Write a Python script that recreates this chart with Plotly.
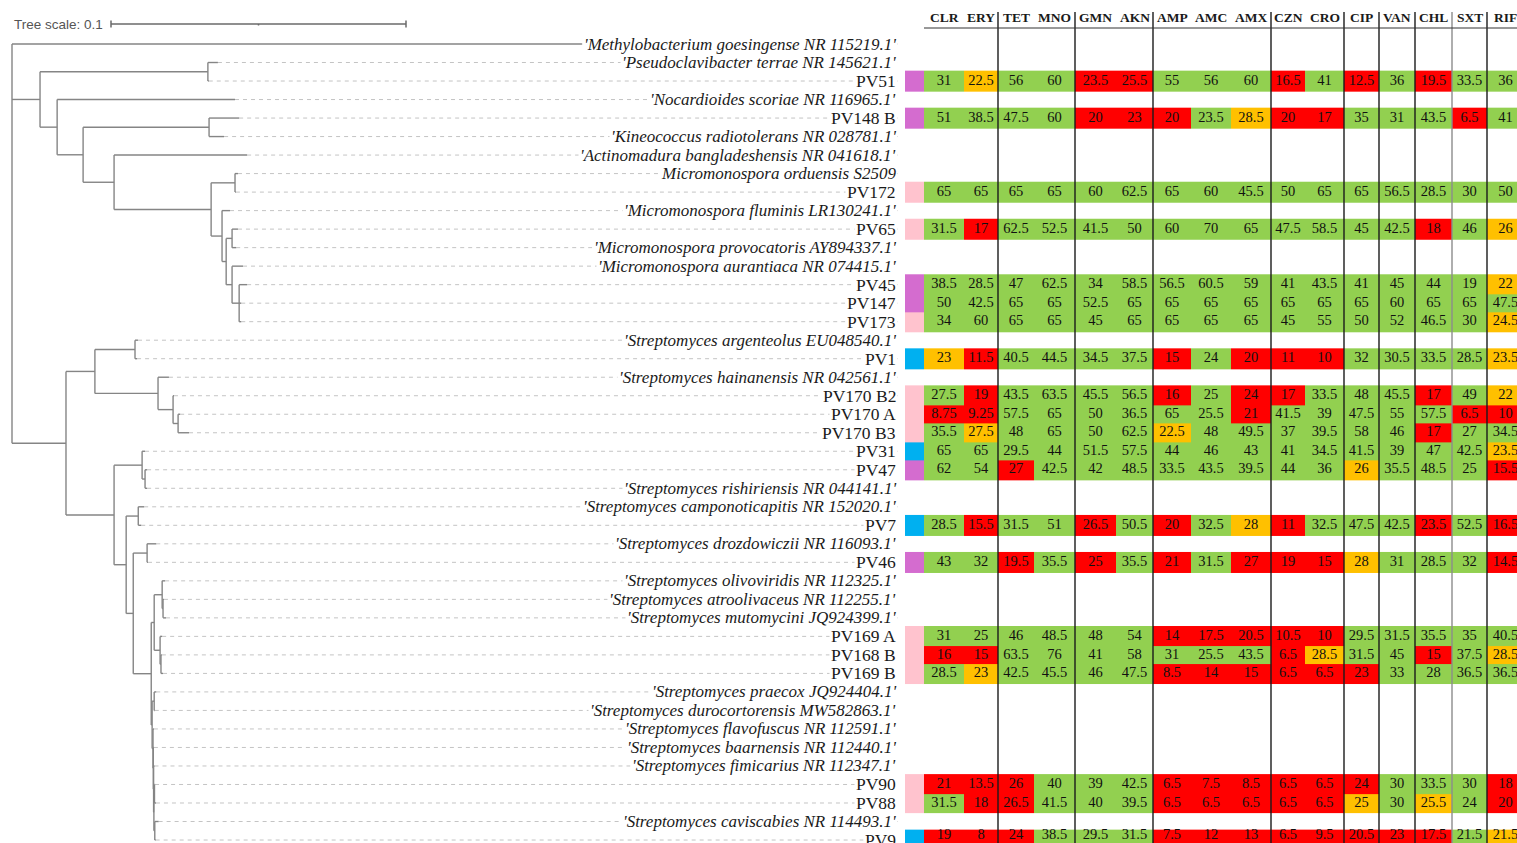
import plotly.graph_objects as go

# ---------------- tree data (branch lengths in substitutions/site) ----------------
NODE_NAMES = ["root", "A", "A1", "A2", "A3", "A4", "A5", "M", "M1", "M2", "M3", "M4", "M5", "M6",
              "B", "B1", "B2", "B3", "B4", "B5", "C", "C1", "C2", "C3", "C4", "C5", "C6", "C7",
              "C8", "C9", "C9a", "C10", "C10a", "C11", "D1", "D2", "D3", "D4", "D5", "D6", "D7"]
NODE_PARENT = [None, "root", "A", "A", "A2", "A3", "A3", "A5", "M", "M", "M2", "M3", "M3", "M5",
               "root", "B", "B1", "B1", "B3", "B4", "B", "C", "C1", "C", "C3", "C3", "C5", "C5",
               "C7", "C8", "C9", "C8", "C10", "C7", "C11", "C11", "D2", "D3", "D4", "D5", "D5"]
NODE_BRANCH = [0.0, 0.0095, 0.0569, 0.0058, 0.0088, 0.0427, 0.0105, 0.0329, 0.0081, 0.0037, 0.0014, 0.0020, 0.0020, 0.0024,
               0.0183, 0.0098, 0.0136, 0.0214, 0.0051, 0.0017, 0.0163, 0.0095, 0.0010, 0.0041, 0.0041, 0.0024, 0.0047, 0.0061,
               0.0010, 0.0027, 0.0003, 0.0020, 0.0003, 0.0003, 0.0007, 0.0003, 0.0001, 0.0001, 0.0001, 0.0002, 0.0003]

LEAF_NAMES = [
    "'Methylobacterium goesingense NR 115219.1'",
    "'Pseudoclavibacter terrae NR 145621.1'",
    "PV51",
    "'Nocardioides scoriae NR 116965.1'",
    "PV148 B",
    "'Kineococcus radiotolerans NR 028781.1'",
    "'Actinomadura bangladeshensis NR 041618.1'",
    "Micromonospora orduensis S2509",
    "PV172",
    "'Micromonospora fluminis LR130241.1'",
    "PV65",
    "'Micromonospora provocatoris AY894337.1'",
    "'Micromonospora aurantiaca NR 074415.1'",
    "PV45",
    "PV147",
    "PV173",
    "'Streptomyces argenteolus EU048540.1'",
    "PV1",
    "'Streptomyces hainanensis NR 042561.1'",
    "PV170 B2",
    "PV170 A",
    "PV170 B3",
    "PV31",
    "PV47",
    "'Streptomyces rishiriensis NR 044141.1'",
    "'Streptomyces camponoticapitis NR 152020.1'",
    "PV7",
    "'Streptomyces drozdowiczii NR 116093.1'",
    "PV46",
    "'Streptomyces olivoviridis NR 112325.1'",
    "'Streptomyces atroolivaceus NR 112255.1'",
    "'Streptomyces mutomycini JQ924399.1'",
    "PV169 A",
    "PV168 B",
    "PV169 B",
    "'Streptomyces praecox JQ924404.1'",
    "'Streptomyces durocortorensis MW582863.1'",
    "'Streptomyces flavofuscus NR 112591.1'",
    "'Streptomyces baarnensis NR 112440.1'",
    "'Streptomyces fimicarius NR 112347.1'",
    "PV90",
    "PV88",
    "'Streptomyces caviscabies NR 114493.1'",
    "PV9",
]
LEAF_PARENT = ["root", "A1", "A1", "A2", "A4", "A4", "A5", "M1", "M1", "M2", "M4", "M4", "M5", "M6", "M6", "M6",
               "B2", "B2", "B3", "B4", "B5", "B5", "C1", "C2", "C2", "C4", "C4", "C6", "C6",
               "C9", "C9a", "C9a", "C10", "C10a", "C10a", "D1", "D1", "D2", "D3", "D4", "D6", "D6", "D7", "D7"]
LEAF_BRANCH = [0.1932, 0.0034, 0.0003, 0.0603, 0.0102, 0.0051, 0.0451, 0.0010, 0.0003, 0.0027, 0.0020, 0.0014,
               0.0037, 0.0027, 0.0007, 0.0007, 0.0010, 0.0007, 0.0037, 0.0003, 0.0007, 0.0037, 0.0010, 0.0007,
               0.0007, 0.0020, 0.0010, 0.0031, 0.0003, 0.0010, 0.0003, 0.0010, 0.0007, 0.0003, 0.0007, 0.0007,
               0.0002, 0.0003, 0.0002, 0.0003, 0.0002, 0.0005, 0.0013, 0.0003]

# ---------------- inhibition-zone table ----------------
ANTIBIOTICS = ["CLR", "ERY", "TET", "MNO", "GMN", "AKN", "AMP", "AMC", "AMX", "CZN", "CRO", "CIP", "VAN", "CHL", "SXT", "RIF"]
ISOLATES = ["PV51", "PV148 B", "PV172", "PV65", "PV45", "PV147", "PV173", "PV1", "PV170 B2", "PV170 A", "PV170 B3",
            "PV31", "PV47", "PV7", "PV46", "PV169 A", "PV168 B", "PV169 B", "PV90", "PV88", "PV9"]
ISOLATE_GROUP = [0, 0, 1, 1, 0, 0, 1, 2, 1, 1, 1, 2, 0, 2, 0, 1, 1, 1, 1, 1, 2]
ZONE_VALUES = [
    [31, 22.5, 56, 60, 23.5, 25.5, 55, 56, 60, 16.5, 41, 12.5, 36, 19.5, 33.5, 36],
    [51, 38.5, 47.5, 60, 20, 23, 20, 23.5, 28.5, 20, 17, 35, 31, 43.5, 6.5, 41],
    [65, 65, 65, 65, 60, 62.5, 65, 60, 45.5, 50, 65, 65, 56.5, 28.5, 30, 50],
    [31.5, 17, 62.5, 52.5, 41.5, 50, 60, 70, 65, 47.5, 58.5, 45, 42.5, 18, 46, 26],
    [38.5, 28.5, 47, 62.5, 34, 58.5, 56.5, 60.5, 59, 41, 43.5, 41, 45, 44, 19, 22],
    [50, 42.5, 65, 65, 52.5, 65, 65, 65, 65, 65, 65, 65, 60, 65, 65, 47.5],
    [34, 60, 65, 65, 45, 65, 65, 65, 65, 45, 55, 50, 52, 46.5, 30, 24.5],
    [23, 11.5, 40.5, 44.5, 34.5, 37.5, 15, 24, 20, 11, 10, 32, 30.5, 33.5, 28.5, 23.5],
    [27.5, 19, 43.5, 63.5, 45.5, 56.5, 16, 25, 24, 17, 33.5, 48, 45.5, 17, 49, 22],
    [8.75, 9.25, 57.5, 65, 50, 36.5, 65, 25.5, 21, 41.5, 39, 47.5, 55, 57.5, 6.5, 10],
    [35.5, 27.5, 48, 65, 50, 62.5, 22.5, 48, 49.5, 37, 39.5, 58, 46, 17, 27, 34.5],
    [65, 65, 29.5, 44, 51.5, 57.5, 44, 46, 43, 41, 34.5, 41.5, 39, 47, 42.5, 23.5],
    [62, 54, 27, 42.5, 42, 48.5, 33.5, 43.5, 39.5, 44, 36, 26, 35.5, 48.5, 25, 15.5],
    [28.5, 15.5, 31.5, 51, 26.5, 50.5, 20, 32.5, 28, 11, 32.5, 47.5, 42.5, 23.5, 52.5, 16.5],
    [43, 32, 19.5, 35.5, 25, 35.5, 21, 31.5, 27, 19, 15, 28, 31, 28.5, 32, 14.5],
    [31, 25, 46, 48.5, 48, 54, 14, 17.5, 20.5, 10.5, 10, 29.5, 31.5, 35.5, 35, 40.5],
    [16, 15, 63.5, 76, 41, 58, 31, 25.5, 43.5, 6.5, 28.5, 31.5, 45, 15, 37.5, 28.5],
    [28.5, 23, 42.5, 45.5, 46, 47.5, 8.5, 14, 15, 6.5, 6.5, 23, 33, 28, 36.5, 36.5],
    [21, 13.5, 26, 40, 39, 42.5, 6.5, 7.5, 8.5, 6.5, 6.5, 24, 30, 33.5, 30, 18],
    [31.5, 18, 26.5, 41.5, 40, 39.5, 6.5, 6.5, 6.5, 6.5, 6.5, 25, 30, 25.5, 24, 20],
    [19, 8, 24, 38.5, 29.5, 31.5, 7.5, 12, 13, 6.5, 9.5, 20.5, 23, 17.5, 21.5, 21.5],
]
# g = susceptible (green), o = intermediate (orange), r = resistant (red)
ZONE_CLASS = [
    "goggrrgggrgrgrgg",
    "ggggrrrgorrgggrg",
    "gggggggggggggggg",
    "grgggggggggggrgo",
    "gggggggggggggggo",
    "gggggggggggggggg",
    "gggggggggggggggo",
    "orggggrgrrrggggo",
    "grggggrgrrgggrgo",
    "rrggggggrgggggrr",
    "goggggoggggggrgg",
    "gggggggggggggggo",
    "ggrggggggggogggr",
    "grggrgrgorgggrgr",
    "ggrgrgrgrrrogggr",
    "ggggggrrrrrggggg",
    "rrgggggggroggrgo",
    "goggggrrrrrrgggg",
    "rrrgggrrrrrrgggr",
    "grrgggrrrrrogogr",
    "rrrgggrrrrrrrrgo",
]

# ---------------- layout / style constants ----------------
W, H = 1517, 843
X0_PX, PX_PER_UNIT = 12, 2950.0
Y0_PX, ROW_PX = 44, 18.512
LABEL_RIGHT_PX = 898
STRIP_PX = (905, 924)
TABLE_LEFT_PX = 924
COL_WIDTHS_PX = [40, 34, 36, 41, 41, 37, 38, 40, 40, 34, 39, 35, 36, 37, 35, 37]
SEP_AFTER = [1, 3, 5, 8, 10, 11, 12, 13, 14]
SEP_GRAY = [13]
HEADER_Y_PX, HEADER_LINE_PX, SEP_TOP_PX = 17, 28, 12
TEXT_BOTTOM_MARGIN_PX = 8
ROW_PAD = 0.06
CLASS_COLORS = {"g": 0, "o": 1, "r": 2}
CLASS_SCALE = [[0, "#92D050"], [0.5, "#FFC000"], [1, "#FF0000"]]
GROUP_SCALE = [[0, "#D46CCF"], [0.5, "#FFC3CE"], [1, "#00B0F0"]]
TREE_COLOR = "#858585"
DASH_COLOR = "#c4c4c4"
SERIF = "Liberation Serif"

# ---------------- tree geometry ----------------
node_parent = dict(zip(NODE_NAMES, NODE_PARENT))
node_len = dict(zip(NODE_NAMES, NODE_BRANCH))


def depth(n):
    d = 0.0
    while n is not None:
        d += node_len[n]
        n = node_parent[n]
    return d


node_x = {n: depth(n) for n in NODE_NAMES}
leaf_x = [node_x[p] + l for p, l in zip(LEAF_PARENT, LEAF_BRANCH)]
leaf_y = list(range(len(LEAF_NAMES)))

children = {n: [] for n in NODE_NAMES}
for i, p in enumerate(LEAF_PARENT):
    children[p].append(("leaf", i))
for n, p in zip(NODE_NAMES, NODE_PARENT):
    if p is not None:
        children[p].append(("node", n))

node_y = {}


def get_y(n):
    if n not in node_y:
        ys = [leaf_y[c] if k == "leaf" else get_y(c) for k, c in children[n]]
        node_y[n] = (min(ys) + max(ys)) / 2.0
    return node_y[n]


for n in NODE_NAMES:
    get_y(n)

tx, ty = [], []
for n in NODE_NAMES:
    p = node_parent[n]
    if p is not None:
        tx += [node_x[p], node_x[n], None]
        ty += [node_y[n], node_y[n], None]
for n in NODE_NAMES:
    ys = [leaf_y[c] if k == "leaf" else node_y[c] for k, c in children[n]]
    tx += [node_x[n], node_x[n], None]
    ty += [min(ys), max(ys), None]
for i, p in enumerate(LEAF_PARENT):
    tx += [node_x[p], leaf_x[i], None]
    ty += [leaf_y[i], leaf_y[i], None]

label_right_u = (LABEL_RIGHT_PX - X0_PX) / PX_PER_UNIT
dx, dy = [], []
for i in range(len(LEAF_NAMES)):
    dx += [leaf_x[i], label_right_u, None]
    dy += [leaf_y[i], leaf_y[i], None]

fig = go.Figure()
fig.add_trace(go.Scatter(x=dx, y=dy, mode="lines", xaxis="x", yaxis="y",
                         line=dict(color=DASH_COLOR, width=1, dash="4px,4px"), hoverinfo="skip"))
fig.add_trace(go.Scatter(x=tx, y=ty, mode="lines", xaxis="x", yaxis="y",
                         line=dict(color=TREE_COLOR, width=1.4), hoverinfo="skip"))

# tree scale bar (0.1)
sb_start = (111 - X0_PX) / PX_PER_UNIT
sb_y = (24 - Y0_PX) / ROW_PX
tk = 3.5 / ROW_PX
sbx = [sb_start, sb_start + 0.1, None, sb_start, sb_start, None, sb_start + 0.1, sb_start + 0.1, None,
       sb_start + 0.05, sb_start + 0.05]
sby = [sb_y, sb_y, None, sb_y - tk, sb_y + tk, None, sb_y - tk, sb_y + tk, None, sb_y, sb_y + 1.5 / ROW_PX]
fig.add_trace(go.Scatter(x=sbx, y=sby, mode="lines", xaxis="x", yaxis="y",
                         line=dict(color="#6a6a6a", width=1.5), hoverinfo="skip"))

# ---------------- table ----------------
col_edges = [TABLE_LEFT_PX]
for w in COL_WIDTHS_PX:
    col_edges.append(col_edges[-1] + w)
col_centers = [(a + b) / 2 for a, b in zip(col_edges[:-1], col_edges[1:])]

leaf_of = {name: i for i, name in enumerate(LEAF_NAMES)}
iso_rows = sorted(((leaf_of[name], k) for k, name in enumerate(ISOLATES)))
blocks = []
for li, k in iso_rows:
    if blocks and blocks[-1][-1][0] == li - 1:
        blocks[-1].append((li, k))
    else:
        blocks.append([(li, k)])

for blk in blocks:
    idx = [li for li, _ in blk]
    yedges = [idx[0] - 0.5 - ROW_PAD] + [i + 0.5 for i in idx[:-1]] + [idx[-1] + 0.5 + ROW_PAD]
    z = [[CLASS_COLORS[c] for c in ZONE_CLASS[k]] for _, k in blk]
    fig.add_trace(go.Heatmap(x=col_edges, y=yedges, z=z, xaxis="x2", yaxis="y",
                             colorscale=CLASS_SCALE, zmin=0, zmax=2, showscale=False, hoverinfo="skip"))
    zs = [[ISOLATE_GROUP[k]] for _, k in blk]
    fig.add_trace(go.Heatmap(x=list(STRIP_PX), y=yedges, z=zs, xaxis="x2", yaxis="y",
                             colorscale=GROUP_SCALE, zmin=0, zmax=2, showscale=False, hoverinfo="skip"))

max_text_row = (H - Y0_PX - TEXT_BOTTOM_MARGIN_PX) / ROW_PX
vx, vy, vt = [], [], []
for li, k in iso_rows:
    for j, v in enumerate(ZONE_VALUES[k]):
        vx.append(col_centers[j])
        vy.append(min(li, max_text_row))
        vt.append(f"{v:g}")
fig.add_trace(go.Scatter(x=vx, y=vy, text=vt, mode="text", xaxis="x2", yaxis="y",
                         textfont=dict(family=SERIF, size=14.5, color="#111111"), hoverinfo="skip"))

shapes = []
for j in SEP_AFTER:
    shapes.append(dict(type="line", xref="x2", yref="paper", x0=col_edges[j + 1], x1=col_edges[j + 1],
                       y0=0, y1=1 - SEP_TOP_PX / H,
                       line=dict(color="#8c8c8c" if j in SEP_GRAY else "#1a1a1a", width=1.4)))
shapes.append(dict(type="line", xref="x2", yref="paper", x0=TABLE_LEFT_PX, x1=col_edges[-1],
                   y0=1 - HEADER_LINE_PX / H, y1=1 - HEADER_LINE_PX / H,
                   line=dict(color="#333333", width=1)))

annotations = []
for j, ab in enumerate(ANTIBIOTICS):
    annotations.append(dict(xref="x2", yref="paper", x=col_centers[j], y=1 - HEADER_Y_PX / H,
                            text=f"<b>{ab}</b>", showarrow=False, xanchor="center", yanchor="middle",
                            font=dict(family=SERIF, size=13.5, color="#1a1a1a")))


def leaf_label(name, color, bg):
    italic = not name.startswith("PV")
    return dict(xref="x2", yref="y", x=LABEL_RIGHT_PX, y=leaf_of[name],
                text=(f"<i>{name}</i>" if italic else name), showarrow=False,
                xanchor="right", yanchor="middle", bgcolor=bg, borderpad=1,
                font=dict(family=SERIF, size=17 if italic else 17.5, color=color))


# first: white masks hiding the leader dashes under each label; then the visible labels on top
for name in LEAF_NAMES:
    annotations.append(leaf_label(name, "white", "white"))
for name in LEAF_NAMES:
    annotations.append(leaf_label(name, "#1a1a1a", "rgba(0,0,0,0)"))

annotations.append(dict(xref="paper", yref="paper", x=X0_PX / W, y=1 - 24 / H, text="Tree scale: 0.1",
                        showarrow=False, xanchor="left", yanchor="middle",
                        font=dict(family="Liberation Sans", size=13.5, color="#555555")))

fig.update_layout(
    width=W, height=H, margin=dict(l=0, r=0, t=0, b=0),
    paper_bgcolor="white", plot_bgcolor="white", showlegend=False,
    xaxis=dict(domain=[0, 1], range=[-X0_PX / PX_PER_UNIT, (W - X0_PX) / PX_PER_UNIT], visible=False),
    xaxis2=dict(domain=[0, 1], range=[0, W], overlaying="x", visible=False),
    yaxis=dict(domain=[0, 1], range=[(H - Y0_PX) / ROW_PX, -Y0_PX / ROW_PX], visible=False),
    shapes=shapes, annotations=annotations,
)

fig.write_html("out.html", config={"displayModeBar": False},
               post_script="document.body.style.margin='0';")
